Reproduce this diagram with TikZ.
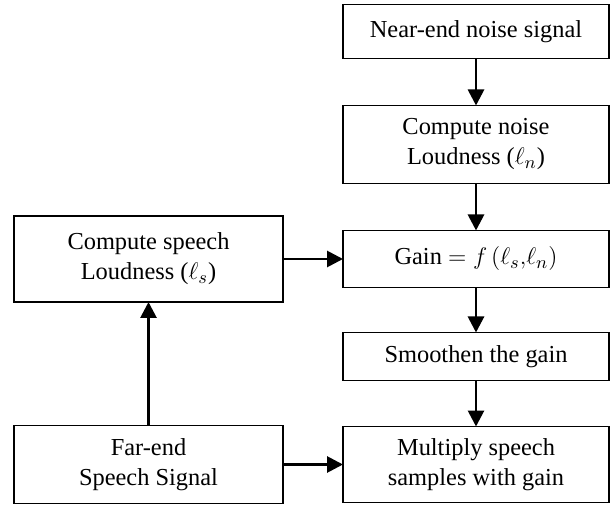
\documentclass[tikz,border=0pt]{standalone}
\usepackage{fontspec}
\setmainfont{Liberation Serif}
\usetikzlibrary{arrows.meta, positioning}

\begin{document}
\begin{tikzpicture}[
            x=0.5pt, y=0.5pt,
            box/.style={draw, line width=0.9pt, outer sep=0pt, minimum width=133pt, inner sep=2pt, align=center, font=\fontsize{12.2pt}{15pt}\selectfont},
            arrow/.style={-{Triangle[length=8pt, width=8pt]}, line width=1.4pt}
        ]
            \useasboundingbox (0,0) rectangle (613,-506);

            \node[box, minimum height=27pt] (nearend) at (476,-31.5) {Near-end noise signal};
            \node[box, minimum height=39pt, below=23.5pt of nearend] (noiseloud) {Compute noise\\Loudness ($\ell_n$)};
            \node[box, minimum height=28.5pt, below=23.5pt of noiseloud] (gain) {Gain $=f\,(\ell_s{,}\ell_n)$};
            \node[box, minimum height=24pt, below=22.5pt of gain] (smooth) {Smoothen the gain};
            \node[box, minimum height=38pt, below=23pt of smooth] (multiply) {Multiply speech\\samples with gain};

            \node[box, minimum width=134.5pt, minimum height=43pt, left=30pt of gain] (speechloud) {Compute speech\\Loudness ($\ell_s$)};
            \node[box, minimum width=134.5pt, minimum height=39pt, left=30pt of multiply] (farend) {Far-end\\Speech Signal};

            \draw[arrow] (nearend) -- (noiseloud);
            \draw[arrow] (noiseloud) -- (gain);
            \draw[arrow] (gain) -- (smooth);
            \draw[arrow] (smooth) -- (multiply);
            \draw[arrow] (speechloud) -- (gain);
            \draw[arrow] (farend) -- (speechloud);
            \draw[arrow] (farend) -- (multiply);
        \end{tikzpicture}
\end{document}
